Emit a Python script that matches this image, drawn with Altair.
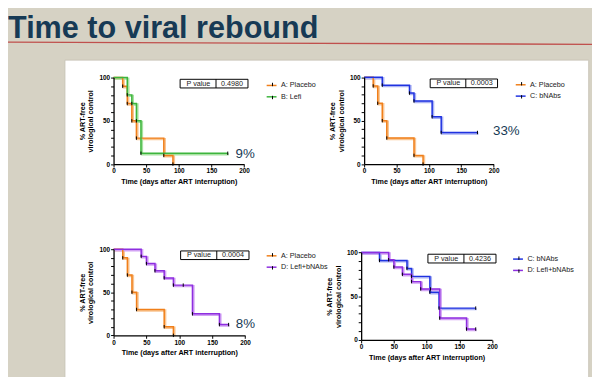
import altair as alt
import pandas as pd

# ---------------- data ----------------
placebo_t = [0, 14, 21, 28, 35, 77, 91]
placebo_s = [100, 90, 70, 50, 30, 10, 0]
lefi_t = [0, 21, 28, 35, 42, 175]
lefi_s = [100, 80, 70, 50, 12.5, 12.5]
bnabs_t = [0, 28, 70, 77, 105, 119, 175]
bnabs_s = [100, 90.9, 81.8, 72.7, 54.5, 36.4, 36.4]
combo_t = [0, 42, 50, 63, 77, 91, 106, 120, 161, 175]
combo_s = [100, 91.7, 83.3, 75, 66.7, 58.3, 58.3, 25, 12.5, 12.5]

series_names = {"A": "A: Placebo", "B": "B: Lefi", "C": "C: bNAbs", "D": "D: Lefi+bNAbs"}
series_data = {"A": (placebo_t, placebo_s), "B": (lefi_t, lefi_s),
               "C": (bnabs_t, bnabs_s), "D": (combo_t, combo_s)}
panel_pairs = [("A", "B"), ("A", "C"), ("A", "D"), ("C", "D")]
p_values = ["0.4980", "0.0003", "0.0004", "0.4236"]
pct_labels = ["9%", "33%", "8%", ""]

x_ticks = [0, 50, 100, 150, 200]
y_ticks = list(range(0, 101, 10))

# ---------------- styles / layout ----------------
W, H = 592, 369
FONT = "Liberation Sans"
main_col = {"A": "#f07f1a", "B": "#3db53d", "C": "#1f32e0", "D": "#8e2ee0"}
shadow_col = {"A": "#f9c592", "B": "#a8e2a2", "C": "#aab2f4", "D": "#d2a2f4"}
NAVY = "#173a55"
TICK = "M0,-1L0,1"

layout = [
    dict(x0=107, x1=239.3, y0=155.7, y1=68, lx=261.2, ly=70, px=187, py=12),
    dict(x0=361, x1=492.3, y0=155.7, y1=67.7, lx=513.7, ly=69.3, px=199, py=38),
    dict(x0=107, x1=240.3, y0=329.3, y1=242, lx=261.2, ly=242.7, px=186, py=13),
    dict(x0=358, x1=490.7, y0=334, y1=245.3, lx=511, ly=246, px=0, py=0),
]


def make_panel(i):
    L = layout[i]
    keys = panel_pairs[i]
    rows = []
    for k in keys:
        t, s = series_data[k]
        for ti, si in zip(t, s):
            rows.append({"series": series_names[k], "t": ti, "s": si})
    df = pd.DataFrame(rows)
    names = [series_names[k] for k in keys]

    def xs():
        return alt.Scale(domain=[0, 200], range=[L["x0"], L["x1"]], nice=False, zero=False)

    def ys():
        return alt.Scale(domain=[0, 100], range=[L["y0"], L["y1"]], nice=False, zero=False)

    x_axis = alt.Axis(orient="bottom", offset=L["y0"] - H, values=x_ticks, zindex=2,
                      title="Time (days after ART interruption)", titleFont=FONT,
                      titleFontSize=7.3, titleFontWeight="bold", titleColor="black",
                      titlePadding=3, labelFont=FONT, labelFontSize=6.5,
                      labelFontWeight="bold", labelColor="black", labelPadding=1,
                      tickSize=3, tickColor="black", tickWidth=1, domainColor="black",
                      domainWidth=1.3, grid=False, labelFlush=False, labelOverlap=False)
    y_axis = alt.Axis(orient="left", offset=-L["x0"], values=y_ticks, zindex=2,
                      labelExpr="datum.value % 50 === 0 ? datum.label : ''",
                      title=["% ART-free", "virological control"], titleFont=FONT,
                      titleFontSize=7.3, titleFontWeight="bold", titleColor="black",
                      titlePadding=4, titleLineHeight=9, labelFont=FONT, labelFontSize=6.5,
                      labelFontWeight="bold", labelColor="black", labelPadding=1,
                      tickSize=3, tickColor="black", tickWidth=1, domainColor="black",
                      domainWidth=1.3, grid=False, labelOverlap=False)

    base = alt.Chart(df)
    shadow = base.mark_line(interpolate="step-after", strokeWidth=2.4, xOffset=1, yOffset=1).encode(
        x=alt.X("t:Q", scale=xs(), axis=None),
        y=alt.Y("s:Q", scale=ys(), axis=None),
        stroke=alt.Stroke("series:N", scale=alt.Scale(domain=names, range=[shadow_col[k] for k in keys]), legend=None),
        detail="series:N",
    )
    line = base.mark_line(interpolate="step-after", strokeWidth=1.5).encode(
        x=alt.X("t:Q", scale=xs(), axis=x_axis),
        y=alt.Y("s:Q", scale=ys(), axis=y_axis),
        color=alt.Color("series:N", scale=alt.Scale(domain=names, range=[main_col[k] for k in keys]),
                        legend=alt.Legend(orient="none", legendX=L["lx"], legendY=L["ly"], title=None,
                                          zindex=2,
                                          labelFont=FONT, labelFontSize=7.3, labelColor="#222222",
                                          symbolType="stroke", symbolSize=100, symbolStrokeWidth=1.5,
                                          labelOffset=3.5, rowPadding=1.5, padding=0)),
        detail="series:N",
    )
    ticks = base.transform_filter(alt.datum.t > 0).mark_point(
        size=12, strokeWidth=1, color="black", filled=False, opacity=1
    ).encode(
        x=alt.X("t:Q", scale=xs(), axis=None), y=alt.Y("s:Q", scale=ys(), axis=None),
        shape=alt.Shape("series:N", scale=alt.Scale(domain=names, range=[TICK, TICK]),
                        legend=alt.Legend(orient="none", legendX=L["lx"] + 3.27, legendY=L["ly"] + 1.35,
                                          title=None, zindex=3, labelFont=FONT, labelFontSize=7.3,
                                          labelOpacity=0, symbolSize=12, symbolStrokeWidth=1,
                                          symbolStrokeColor="black", symbolFillColor="transparent",
                                          labelOffset=3.5, rowPadding=4.2, padding=0)),
    )

    one = alt.Data(values=[{}])
    box = alt.Chart(one).mark_rect(fill="white", stroke="black", strokeWidth=1).encode(
        x=alt.X(datum=102, type="quantitative", scale=xs(), axis=None),
        x2=alt.X2(datum=206),
        y=alt.Y(datum=98, type="quantitative", scale=ys(), axis=None),
        y2=alt.Y2(datum=88),
    )
    divider = alt.Chart(one).mark_rule(color="black", strokeWidth=1).encode(
        x=alt.X(datum=157, type="quantitative", scale=xs(), axis=None),
        y=alt.Y(datum=98, type="quantitative", scale=ys(), axis=None),
        y2=alt.Y2(datum=88),
    )
    ptxt = alt.Chart(one).mark_text(text="P value", font=FONT, fontSize=7.3, color="#222222",
                                    baseline="middle", align="center").encode(
        x=alt.X(datum=130, type="quantitative", scale=xs(), axis=None),
        y=alt.Y(datum=93, type="quantitative", scale=ys(), axis=None),
    )
    pval = alt.Chart(one).mark_text(text=p_values[i], font=FONT, fontSize=7.3, color="#222222",
                                    baseline="middle", align="center").encode(
        x=alt.X(datum=181.5, type="quantitative", scale=xs(), axis=None),
        y=alt.Y(datum=93, type="quantitative", scale=ys(), axis=None),
    )
    layers = [shadow, line, ticks, box, divider, ptxt, pval]
    if pct_labels[i]:
        pct = alt.Chart(one).mark_text(text=pct_labels[i], font=FONT, fontSize=13.5, color=NAVY,
                                       baseline="middle", align="left").encode(
            x=alt.X(datum=L["px"], type="quantitative", scale=xs(), axis=None),
            y=alt.Y(datum=L["py"], type="quantitative", scale=ys(), axis=None),
        )
        layers.append(pct)
    return layers


one = alt.Data(values=[{}])
white_panel = alt.Chart(one).mark_rect(fill="white", stroke="#c9c5b8", strokeWidth=1).encode(
    x=alt.value(57.7), x2=alt.value(588.7), y=alt.value(50.3), y2=alt.value(374.7))
red_line = alt.Chart(one).mark_rule(color="#c0504d", strokeWidth=1.3).encode(
    x=alt.value(-8), x2=alt.value(592), y=alt.value(32), y2=alt.value(34.3))
title = alt.Chart(one).mark_text(text="Time to viral rebound", font=FONT, fontSize=31,
                                 fontWeight="bold", color=NAVY, align="left",
                                 baseline="alphabetic").encode(x=alt.value(0), y=alt.value(28))

all_layers = [white_panel, red_line, title]
for i in range(4):
    all_layers += make_panel(i)

chart = alt.layer(*all_layers).resolve_scale(
    x="independent", y="independent", color="independent", stroke="independent",
    shape="independent"
).resolve_axis(x="independent", y="independent").resolve_legend(
    color="independent", stroke="independent", shape="independent"
).properties(
    width=W, height=H, background="#d6d2c4", padding=0,
    autosize=alt.AutoSizeParams(type="none"),
).configure_view(strokeWidth=0)

chart.save("out.html", embed_options={"renderer": "svg", "actions": False})
